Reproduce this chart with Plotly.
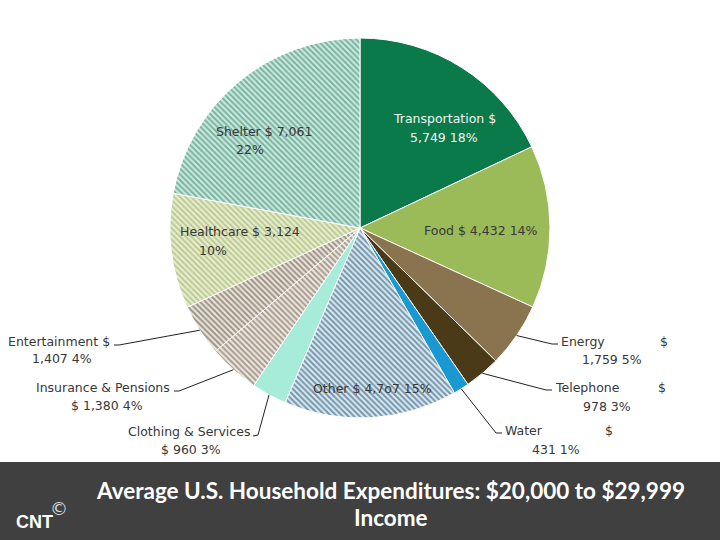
import math
import plotly.graph_objects as go

# ---- data ----
categories = ["Transportation", "Food", "Energy", "Telephone", "Water", "Other",
              "Clothing & Services", "Insurance & Pensions", "Entertainment",
              "Healthcare", "Shelter"]
values = [5749, 4432, 1759, 978, 431, 4707, 960, 1380, 1407, 3124, 7061]
value_text = ["5,749", "4,432", "1,759", "978", "431", "4,7o7", "960", "1,380",
              "1,407", "3,124", "7,061"]
percent_text = ["18%", "14%", "5%", "3%", "1%", "15%", "3%", "4%", "4%", "10%", "22%"]

# ---- styles ----
W, H = 720, 540
colors = ["#0b7a4b", "#9bbb59", "#8a7450", "#4a3a18", "#1a98d2", "#d8ecf6",
          "#a6ecd8", "#efe9e1", "#ece6de", "#e9efcf", "#cdebe0"]
fgcolors = ["#0b7a4b", "#9bbb59", "#8a7450", "#4a3a18", "#1a98d2", "#1b3a58",
            "#7fd8c2", "#5e4e3e", "#4e4030", "#8fa35a", "#267a60"]
shapes_pat = ["", "", "", "", "", "\\", "", "\\", "\\", "\\", "\\"]

cx, cy, R = 360, 228, 190
dom_x = [(cx - R) / W, (cx + R) / W]
dom_y = [1 - (cy + R) / H, 1 - (cy - R) / H]

def px(x, y):
    return x / W, 1 - y / H

fig = go.Figure(go.Pie(
    labels=categories, values=values, sort=False, direction="clockwise",
    rotation=0, textinfo="none", hoverinfo="label+value+percent",
    domain=dict(x=dom_x, y=dom_y), showlegend=False,
    marker=dict(colors=colors, line=dict(color="white", width=1),
                pattern=dict(shape=shapes_pat, fgcolor=fgcolors, size=4,
                             solidity=0.5, fillmode="overlay")),
))

font_main = "DejaVu Sans"
txt_color = "#383838"
annotations = []
shapes = []

def label(x, y, text, anchor="center", color=txt_color, size=12.5):
    xx, yy = px(x, y)
    annotations.append(dict(x=xx, y=yy, xref="paper", yref="paper", text=text,
                            showarrow=False, xanchor=anchor, yanchor="middle",
                            font=dict(family=font_main, size=size, color=color)))

idx = {c: i for i, c in enumerate(categories)}

# inside labels
i = idx["Transportation"]
label(444, 118, "Transportation $", color="#f4f4f4")
label(444, 137, f"{value_text[i]} {percent_text[i]}", color="#f4f4f4")
i = idx["Food"]
label(481, 230, f"Food $ {value_text[i]} {percent_text[i]}")
i = idx["Shelter"]
label(264, 131, f"Shelter $ {value_text[i]}")
label(250, 149, percent_text[i])
i = idx["Healthcare"]
label(240, 231, f"Healthcare $ {value_text[i]}")
label(213, 250, percent_text[i])
i = idx["Other"]
label(372, 388, f"Other $ {value_text[i]} {percent_text[i]}")

# outside labels with leader lines computed from slice mid-angles
total = sum(values)
cum = 0
mid = {}
for c, v in zip(categories, values):
    a = (cum + v / 2) / total * 2 * math.pi
    mid[c] = (cx + R * math.sin(a), cy - R * math.cos(a))
    cum += v

def leader(c, elbow, end):
    x0, y0 = mid[c]
    pts = [px(x0, y0), px(*elbow), px(*end)]
    path = "M " + " L ".join(f"{p[0]},{p[1]}" for p in pts)
    shapes.append(dict(type="path", path=path, xref="paper", yref="paper",
                       line=dict(color="#222222", width=1)))

# right side
i = idx["Energy"]
leader("Energy", (552, 344), (558, 344))
label(559, 341, "Energy", anchor="left")
label(658, 341, "$", anchor="left")
label(612, 359, f"{value_text[i]} {percent_text[i]}")

i = idx["Telephone"]
leader("Telephone", (546, 390), (552, 390))
label(553, 387, "Telephone", anchor="left")
label(656, 387, "$", anchor="left")
label(607, 406, f"{value_text[i]} {percent_text[i]}")

i = idx["Water"]
leader("Water", (496, 433), (502, 433))
label(503, 430, "Water", anchor="left")
label(603, 430, "$", anchor="left")
label(556, 449, f"{value_text[i]} {percent_text[i]}")

# left side
i = idx["Entertainment"]
leader("Entertainment", (119, 345), (114, 345))
label(112, 341, "Entertainment $", anchor="right")
label(62, 358, f"{value_text[i]} {percent_text[i]}")

i = idx["Insurance & Pensions"]
leader("Insurance & Pensions", (179, 391), (174, 391))
label(172, 387, "Insurance & Pensions", anchor="right")
label(107, 405, f"$ {value_text[i]} {percent_text[i]}")

i = idx["Clothing & Services"]
leader("Clothing & Services", (258, 435), (253, 436))
label(252, 431, "Clothing & Services", anchor="right")
label(191, 449, f"$ {value_text[i]} {percent_text[i]}")

# bottom band
shapes.insert(0, dict(type="rect", xref="paper", yref="paper", x0=0, x1=1,
                      y0=0, y1=1 - 462 / H, fillcolor="#404040", line_width=0,
                      layer="below"))
tx, ty = px(391, 490)
annotations.append(dict(x=tx, y=ty, xref="paper", yref="paper", showarrow=False,
                        text="<b>Average U.S. Household Expenditures: $20,000 to $29,999</b>",
                        font=dict(family="Lato", size=22.5, color="white"),
                        xanchor="center", yanchor="middle"))
tx, ty = px(391, 517)
annotations.append(dict(x=tx, y=ty, xref="paper", yref="paper", showarrow=False,
                        text="<b>Income</b>",
                        font=dict(family="Lato", size=22.5, color="white"),
                        xanchor="center", yanchor="middle"))
tx, ty = px(34, 522)
annotations.append(dict(x=tx, y=ty, xref="paper", yref="paper", showarrow=False,
                        text="<b>CNT</b>", font=dict(family="Liberation Sans", size=18, color="white"),
                        xanchor="center", yanchor="middle"))
tx, ty = px(59, 509)
annotations.append(dict(x=tx, y=ty, xref="paper", yref="paper", showarrow=False,
                        text="©", font=dict(family="DejaVu Sans", size=18, color="#dddddd"),
                        xanchor="center", yanchor="middle"))

fig.update_layout(width=W, height=H, margin=dict(l=0, r=0, t=0, b=0),
                  paper_bgcolor="white", plot_bgcolor="white",
                  annotations=annotations, shapes=shapes)
fig.write_html("out.html", config={"displayModeBar": False},
               post_script="document.body.style.margin='0';")
